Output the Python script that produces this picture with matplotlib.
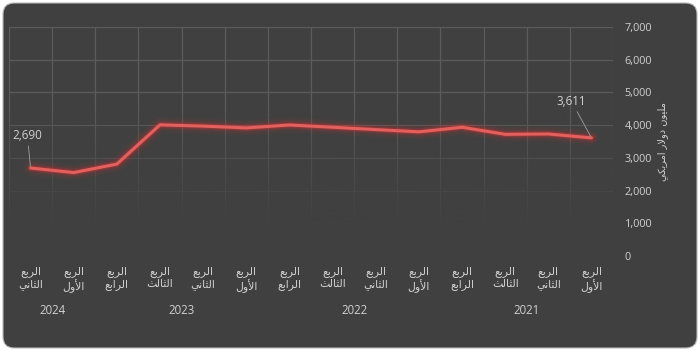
import unicodedata
import numpy as np
import matplotlib
matplotlib.use("Agg")
import matplotlib.pyplot as plt
from matplotlib.patches import FancyBboxPatch
from matplotlib.transforms import blended_transform_factory

# ---------------- data ----------------
quarters = ["الربع الثاني", "الربع الأول", "الربع الرابع", "الربع الثالث",
            "الربع الثاني", "الربع الأول", "الربع الرابع", "الربع الثالث",
            "الربع الثاني", "الربع الأول", "الربع الرابع", "الربع الثالث",
            "الربع الثاني", "الربع الأول"]
values = [2690, 2550, 2810, 4010, 3970, 3915, 4005, 3935, 3865, 3795,
          3935, 3720, 3730, 3611]
years = ["2024", "2023", "2022", "2021"]
year_spans = [(0, 1), (2, 5), (6, 9), (10, 13)]
y_ticks = [0, 1000, 2000, 3000, 4000, 5000, 6000, 7000]
y_label = "مليون دولار امريكي"
annotated = [0, 13]

# ---------------- Arabic shaping helper ----------------
def _form(ch, kind):
    try:
        return unicodedata.lookup(unicodedata.name(ch) + " " + kind + " FORM")
    except (KeyError, ValueError):
        return None

def _is_arabic(ch):
    return "\u0600" <= ch <= "\u06FF"

def shape_word(word):
    items = []
    i = 0
    while i < len(word):
        c = word[i]
        if c == "ل" and i + 1 < len(word) and word[i + 1] in "اأإآ":
            items.append(("LA", word[i + 1]))
            i += 2
        else:
            items.append(c)
            i += 1

    def dual(it):
        if isinstance(it, tuple):
            return False
        return _is_arabic(it) and _form(it, "INITIAL") is not None

    def joins(it):
        if isinstance(it, tuple):
            return True
        return _is_arabic(it) and (_form(it, "FINAL") is not None)

    out = []
    for k, it in enumerate(items):
        prev_j = k > 0 and dual(items[k - 1]) and joins(it)
        next_j = dual(it) and k + 1 < len(items) and joins(items[k + 1])
        if isinstance(it, tuple):
            nm = "ARABIC LIGATURE LAM WITH " + unicodedata.name(it[1])[len("ARABIC LETTER "):]
            g = unicodedata.lookup(nm + (" FINAL FORM" if prev_j else " ISOLATED FORM"))
            out.append(g)
            continue
        if not _is_arabic(it):
            out.append(it)
            continue
        if prev_j and next_j:
            g = _form(it, "MEDIAL")
        elif prev_j:
            g = _form(it, "FINAL")
        elif next_j:
            g = _form(it, "INITIAL")
        else:
            g = _form(it, "ISOLATED")
        out.append(g or it)
    return "".join(out)

def ar(text):
    return " ".join(shape_word(w) for w in text.split(" "))[::-1]

def ar_lines(text):
    return "\n".join(shape_word(w)[::-1] for w in text.split(" "))

# ---------------- figure ----------------
W, H = 700, 351
fig = plt.figure(figsize=(W / 100, H / 100), dpi=100, facecolor="white")
bg = "#404040"
box = FancyBboxPatch((3 / W, 3 / H), 694 / W, 345 / H,
                     boxstyle="round,pad=0,rounding_size=0.016",
                     mutation_aspect=W / H, transform=fig.transFigure,
                     facecolor=bg, edgecolor="#b8b8b8", linewidth=0.8,
                     zorder=-10)
fig.patches.append(box)

ax = fig.add_axes([9 / W, 95 / H, 604 / W, 229 / H])
ax.set_zorder(1)
ax.set_facecolor("none")
n = len(values)
x = np.arange(n)

grid_c = "#5c5c5c"
for yt in y_ticks[1:]:
    ax.axhline(yt, color=grid_c, lw=0.9, zorder=1)
for b in np.arange(-0.5, n, 1.0):
    ax.axvline(b, color=grid_c, lw=0.9, zorder=1)

# fade of the grid toward the bottom
grad = np.linspace(0, 1, 256)
alpha = np.clip((grad - 0.36) / 0.52, 0, 1) ** 0.85
rgba = np.zeros((256, 1, 4))
rgba[..., :3] = np.array(matplotlib.colors.to_rgb(bg))
rgba[:, 0, 3] = alpha
ax.imshow(rgba, extent=(-0.5, n - 0.5, 0, 7000), aspect="auto",
          origin="upper", zorder=2, interpolation="bilinear")
ax.set_xlim(-0.5, n - 0.5)
ax.set_ylim(0, 7000)

for s in ax.spines.values():
    s.set_visible(False)

# glowing line
line_c = "#e2605e"
for lw, a in [(11, 0.05), (8, 0.08), (5.5, 0.15), (3.8, 0.28)]:
    ax.plot(x, values, color="#e03030", lw=lw, alpha=a, zorder=3,
            solid_capstyle="round", solid_joinstyle="round")
ax.plot(x, values, color=line_c, lw=2.2, zorder=4,
        solid_capstyle="round", solid_joinstyle="round")

txt_c = "#d0d0d0"
ax.yaxis.tick_right()
ax.set_yticks(y_ticks)
ax.set_yticklabels([f"{v:,}" for v in y_ticks], color=txt_c, fontsize=7.8,
                   family="Open Sans", ha="left")
ax.tick_params(axis="y", length=0, pad=8.5)

ax.set_xticks(x)
ax.set_xticklabels([ar_lines(q) for q in quarters], color=txt_c,
                   fontsize=7.8, family="DejaVu Sans", linespacing=1.15)
ax.tick_params(axis="x", length=0, pad=7.5)

trans = blended_transform_factory(ax.transData, ax.transAxes)
for yr, (a0, a1) in zip(years, year_spans):
    ax.text((a0 + a1) / 2, -0.236, yr, transform=trans, ha="center",
            va="center", color=txt_c, fontsize=8.3, family="Open Sans")

ax.text(1.0 + 50 / 604, 0.5, ar(y_label), transform=ax.transAxes,
        rotation=90, ha="center", va="center", color=txt_c,
        fontsize=7.0, family="DejaVu Sans")

offsets = {0: (-2.3, 23.5), 13: (-14.4, 26.4)}
for i in annotated:
    ax.annotate(f"{values[i]:,}", (x[i], values[i]),
                xytext=offsets[i], textcoords="offset points",
                ha="center", va="center", color=txt_c, fontsize=8.4,
                family="Open Sans", zorder=5,
                arrowprops=dict(arrowstyle="-", color="#a0a0a0", lw=0.6,
                                shrinkA=1, shrinkB=1))

fig.savefig("out.png", dpi=100, facecolor="white")
